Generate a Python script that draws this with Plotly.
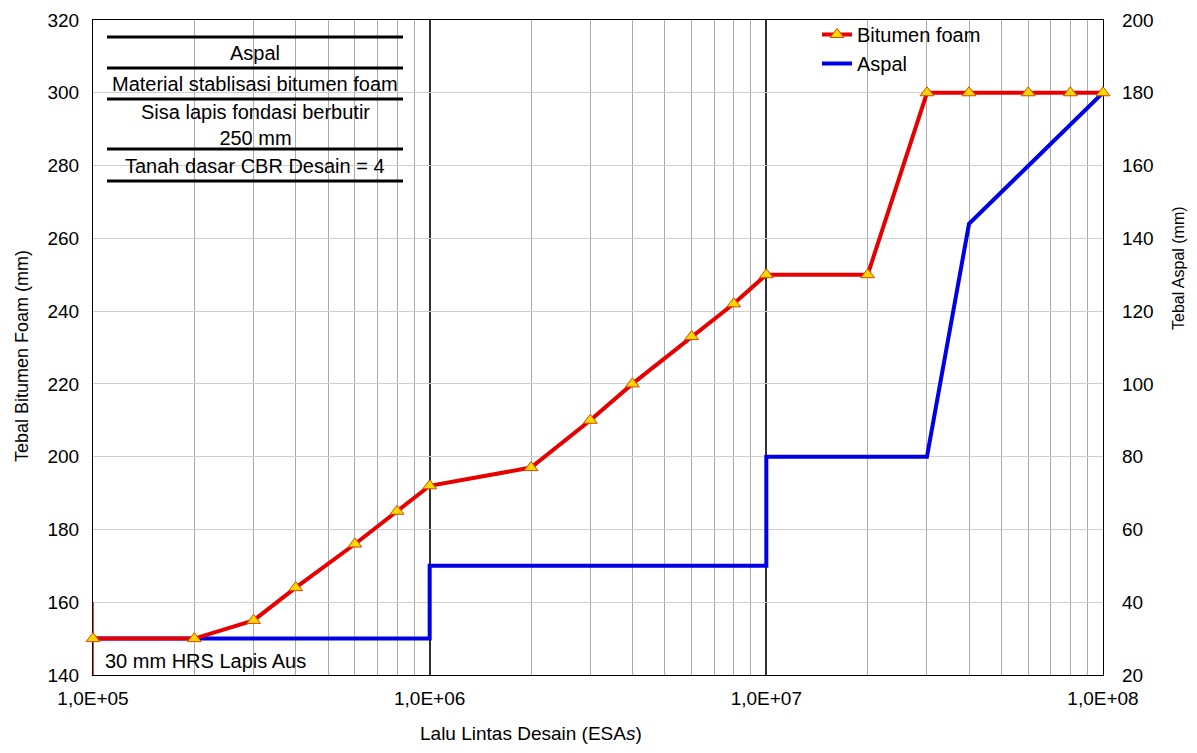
import plotly.graph_objects as go

# ---------------- data ----------------
esa_foam = [1e5, 2e5, 3e5, 4e5, 6e5, 8e5, 1e6, 2e6, 3e6, 4e6, 6e6, 8e6,
            1e7, 2e7, 3e7, 4e7, 6e7, 8e7, 1e8]
tebal_foam = [150, 150, 155, 164, 176, 185, 192, 197, 210, 220, 233, 242,
              250, 250, 300, 300, 300, 300, 300]

esa_aspal = [1e5, 1e6, 1e6, 1e7, 1e7, 3e7, 4e7, 6e7, 1e8]
tebal_aspal = [30, 30, 50, 50, 80, 80, 144, 160, 180]

hrs_esa = [1e5, 1e5]
hrs_tebal = [140, 160]

x_tick_vals = [1e5, 1e6, 1e7, 1e8]
x_tick_text = ["1,0E+05", "1,0E+06", "1,0E+07", "1,0E+08"]

layer_texts = ["Aspal", "Material stablisasi bitumen foam",
               "Sisa lapis fondasi berbutir<br>250 mm",
               "Tanah dasar CBR Desain = 4"]

# ---------------- layout helpers ----------------
# page body has an 8px margin, so the figure is 16px smaller than the window
OFF = 8
W, H = 1197 - 2 * OFF, 753 - 2 * OFF
L, T = 93 - OFF, 20 - OFF
R = W - (1103 - OFF)
B = H - (675 - OFF)
PW, PH = W - L - R, H - T - B
FONT = "Liberation Sans, Arial, sans-serif"


def px(x):
    """window pixel x -> paper x"""
    return (x - OFF - L) / PW


def py(y):
    """window pixel y -> paper y"""
    return (H - B - (y - OFF)) / PH


fig = go.Figure()

fig.add_trace(go.Scatter(
    x=esa_aspal, y=tebal_aspal, yaxis="y", name="Aspal",
    mode="lines", line=dict(color="#0000E6", width=4),
    legendrank=2,
))
fig.add_trace(go.Scatter(
    x=hrs_esa, y=hrs_tebal, yaxis="y2", showlegend=False,
    mode="lines", line=dict(color="#E60000", width=1.5), hoverinfo="skip",
))
fig.add_trace(go.Scatter(
    x=esa_foam, y=tebal_foam, yaxis="y2", name="Bitumen foam",
    mode="lines+markers", line=dict(color="#E60000", width=4),
    marker=dict(symbol="triangle-up", size=12, color="#FFD500",
                line=dict(color="#D24A00", width=1)),
    cliponaxis=False, legendrank=1,
))

shapes = [
    dict(type="rect", xref="paper", yref="paper", layer="between",
         x0=px(94.5), x1=px(405), y0=py(190), y1=py(21),
         fillcolor="white", line=dict(width=0)),
    dict(type="rect", xref="paper", yref="paper", layer="between",
         x0=px(767.5), x1=px(1000), y0=py(75), y1=py(21),
         fillcolor="white", line=dict(width=0)),
]
for yy in [37, 68, 99, 149, 181]:
    shapes.append(dict(type="line", xref="paper", yref="paper", layer="above",
                       x0=px(107), x1=px(403), y0=py(yy), y1=py(yy),
                       line=dict(color="black", width=3)))

annotations = []
for txt, yy in zip(layer_texts, [53, 84, 125, 166]):
    annotations.append(dict(text=txt, x=px(255), y=py(yy), xref="paper",
                            yref="paper", showarrow=False, xanchor="center",
                            yanchor="middle", align="center",
                            font=dict(size=20, color="black")))
annotations += [
    dict(text="30 mm HRS Lapis Aus", x=px(103), y=py(661), xref="paper",
         yref="paper", showarrow=False, xanchor="left", yanchor="middle",
         font=dict(size=20, color="black")),
    dict(text="Lalu Lintas Desain (ESA<i>s</i>)", x=px(531), y=py(733),
         xref="paper", yref="paper", showarrow=False, xanchor="center",
         yanchor="middle", font=dict(size=19, color="black")),
    dict(text="Tebal Bitumen Foam (mm)", x=px(22), y=py(356), xref="paper",
         yref="paper", showarrow=False, textangle=-90, xanchor="center",
         yanchor="middle", font=dict(size=18, color="black")),
    dict(text="Tebal Aspal (mm)", x=px(1178), y=py(268), xref="paper",
         yref="paper", showarrow=False, textangle=-90, xanchor="center",
         yanchor="middle", font=dict(size=16, color="black")),
]

fig.update_layout(
    width=W, height=H,
    margin=dict(l=L, r=R, t=T, b=B, autoexpand=False),
    paper_bgcolor="white", plot_bgcolor="white",
    font=dict(family=FONT, color="black", size=19),
    showlegend=True,
    legend=dict(x=px(817), y=1 + 5 / PH, xanchor="left", yanchor="top",
                bgcolor="rgba(0,0,0,0)", font=dict(size=20),
                tracegroupgap=0),
    xaxis=dict(
        type="log", range=[5, 8],
        tickmode="array", tickvals=x_tick_vals, ticktext=x_tick_text,
        ticks="", ticklabelstandoff=6,
        showgrid=True, gridcolor="#303030", gridwidth=1.5,
        minor=dict(tickmode="linear", dtick="D1", showgrid=True,
                   gridcolor="#ababab", gridwidth=1, ticks=""),
        showline=True, linecolor="black", linewidth=1.2, mirror=True,
        layer="below traces", zeroline=False,
        tickfont=dict(size=19),
    ),
    yaxis=dict(
        range=[20, 200], dtick=20, side="right",
        ticks="", ticklabelstandoff=14,
        showgrid=True, gridcolor="#cfcfcf", gridwidth=1,
        showline=True, linecolor="black", linewidth=1.2, mirror=True,
        layer="below traces", zeroline=False,
        tickfont=dict(size=19),
    ),
    yaxis2=dict(
        range=[140, 320], dtick=20, side="left", overlaying="y",
        ticks="", ticklabelstandoff=9,
        showgrid=False, showline=True, linecolor="black", linewidth=1.2,
        layer="below traces", zeroline=False,
        tickfont=dict(size=19),
    ),
    shapes=shapes,
    annotations=annotations,
)

fig.write_html("out.html")
